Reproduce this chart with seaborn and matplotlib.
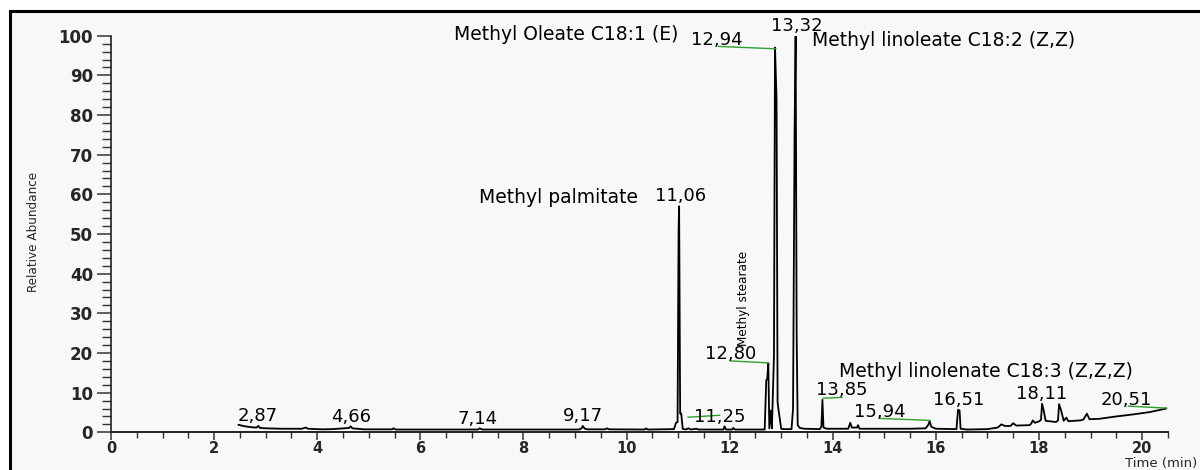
import numpy as np
import pandas as pd
import matplotlib
matplotlib.use("Agg")
import matplotlib.pyplot as plt
import seaborn as sns
from matplotlib import font_manager
from matplotlib.patches import Rectangle
from matplotlib.ticker import MultipleLocator

# Chromatogram trace (time in min, relative abundance %)
time_min = [2.47, 2.60, 2.75, 2.82, 2.86, 2.89, 3.02, 3.30, 3.70, 3.78, 3.82, 4.10,
            4.30, 4.50, 4.62, 4.65, 4.68, 4.90, 5.45, 5.48, 5.52, 6.50, 7.12, 7.15,
            7.20, 9.08, 9.13, 9.15, 9.19, 9.25, 9.58, 9.62, 9.66, 10.35, 10.38, 10.41,
            10.92, 10.96, 10.99, 11.01, 11.02, 11.04, 11.06, 11.09, 11.15, 11.20, 11.25,
            11.35, 11.40, 11.88, 11.90, 11.93, 12.05, 12.07, 12.10, 12.68, 12.71, 12.73,
            12.75, 12.77, 12.80, 12.82, 12.86, 12.88, 12.91, 12.93, 12.95, 13.00, 13.05,
            13.20, 13.23, 13.26, 13.28, 13.30, 13.32, 13.36, 13.45, 13.75, 13.78, 13.80,
            13.82, 13.88, 14.30, 14.34, 14.37, 14.47, 14.49, 14.52, 15.00, 15.50, 15.80,
            15.85, 15.88, 15.91, 16.00, 16.40, 16.43, 16.46, 16.48, 16.60, 17.00, 17.20,
            17.27, 17.34, 17.45, 17.50, 17.56, 17.82, 17.85, 17.88, 17.92, 18.01, 18.04,
            18.06, 18.09, 18.13, 18.33, 18.37, 18.39, 18.43, 18.48, 18.53, 18.57, 18.80,
            18.86, 18.93, 18.98, 19.17, 19.50, 19.82, 20.15, 20.47]
abundance = [1.9, 1.5, 1.25, 1.2, 1.6, 1.1, 1.0, 0.9, 0.9, 1.2, 0.9, 0.75,
             0.8, 1.0, 1.1, 1.5, 1.0, 0.75, 0.75, 1.0, 0.7, 0.7, 0.7, 1.0,
             0.7, 0.7, 1.0, 1.6, 0.9, 0.75, 0.75, 1.0, 0.75, 0.7, 1.0, 0.7,
             0.8, 2.4, 2.6, 51.5, 57.0, 4.7, 4.8, 0.9, 0.7, 1.0, 0.7,
             0.9, 0.7, 0.7, 1.5, 0.7, 0.7, 1.1, 0.7, 0.7, 13.1, 13.5,
             17.4, 1.0, 5.5, 1.0, 19.4, 97.0, 84.0, 7.6, 5.5, 0.9, 0.8,
             0.8, 6.0, 75.8, 100.0, 24.7, 1.8, 1.1, 0.9, 0.8, 1.5, 8.2,
             1.2, 0.9, 0.9, 2.4, 1.2, 1.2, 1.8, 0.9, 0.9, 0.9, 1.0,
             1.8, 2.8, 1.4, 0.9, 0.8, 5.7, 5.5, 0.9, 0.7, 0.8, 1.2,
             2.0, 1.6, 1.6, 2.3, 1.7, 1.8, 2.2, 3.0, 2.4, 2.8, 3.2,
             7.2, 5.6, 2.9, 2.6, 3.0, 7.1, 5.5, 2.9, 3.7, 2.8, 3.0,
             3.2, 4.7, 3.3, 3.4, 4.0, 4.5, 5.1, 6.0]

# Retention time labels and where they sit (label centre x, baseline y)
rt_labels = ["2,87", "4,66", "7,14", "9,17", "11,06", "12,94", "13,32", "12,80",
             "11,25", "13,85", "15,94", "16,51", "18,11", "20,51"]
rt_label_x = [2.85, 4.65, 7.12, 9.16, 11.04, 11.75, 13.30, 12.01,
              11.81, 14.17, 14.92, 16.44, 18.05, 19.70]
rt_label_y = [2.8, 2.6, 2.2, 2.8, 58.2, 97.7, 101.3, 18.4,
              2.6, 9.3, 3.9, 6.8, 8.5, 6.8]

# Green leader lines: label end -> peak apex
leader_from_x = [11.78, 12.01, 11.19, 13.81, 14.92, 19.73]
leader_from_y = [97.3, 18.0, 3.8, 8.6, 3.5, 6.6]
leader_to_x = [12.90, 12.76, 11.81, 14.18, 15.89, 20.48]
leader_to_y = [96.7, 17.5, 4.3, 8.8, 3.0, 6.1]

# Compound names
names = ["Methyl Oleate C18:1 (E)", "Methyl linoleate C18:2 (Z,Z)",
         "Methyl palmitate", "Methyl linolenate C18:3 (Z,Z,Z)"]
name_x = [11.00, 13.60, 10.22, 16.97]
name_y = [99.0, 97.3, 57.7, 14.0]
name_ha = ["right", "left", "right", "center"]

sns.set_style("ticks")
plt.rcParams['font.family'] = ['DejaVu Sans']

# look for a condensed face for the rotated labels
narrow = None
for f in font_manager.fontManager.ttflist:
    if str(f.stretch) in ('condensed', 'semi-condensed', 'extra-condensed') \
            and f.style == 'normal' and str(f.weight) in ('normal', '400', 'regular'):
        narrow = font_manager.FontProperties(fname=f.fname)
        break
if narrow is not None:
    narrow_size = 9.6
else:
    narrow = font_manager.FontProperties(family='DejaVu Sans')
    narrow_size = 8.0

fig = plt.figure(figsize=(12, 4.7), dpi=100)
fig.patch.set_facecolor('white')
fig.patches.append(Rectangle((0.0081, -0.05), 1.1, 0.9766 + 0.05,
                             transform=fig.transFigure, facecolor='#f8f8f8',
                             edgecolor='black', linewidth=2.2, zorder=-5))

ax = fig.add_axes([0.0925, 0.0802, 0.8807, 0.8438])
ax.patch.set_alpha(0)

df = pd.DataFrame({"time": time_min, "abundance": abundance})
sns.lineplot(data=df, x="time", y="abundance", sort=False, estimator=None,
             color='black', linewidth=1.3, ax=ax)

for x0, y0, x1, y1 in zip(leader_from_x, leader_from_y, leader_to_x, leader_to_y):
    ax.plot([x0, x1], [y0, y1], color='#2ca02c', linewidth=1.0, clip_on=False)

for lab, x, y in zip(rt_labels, rt_label_x, rt_label_y):
    ax.text(x, y, lab, ha='center', va='baseline', fontsize=13, color='black',
            clip_on=False)

for lab, x, y, ha in zip(names, name_x, name_y, name_ha):
    ax.text(x, y, lab, ha=ha, va='baseline', fontsize=13.5, color='black',
            clip_on=False)

ax.text(12.26, 33.8, "Methyl stearate", rotation=90, ha='center', va='center',
        fontproperties=narrow, fontsize=narrow_size, color='black')

ax.set_xlim(0, 20.5)
ax.set_ylim(0, 100)
ax.xaxis.set_major_locator(MultipleLocator(2))
ax.xaxis.set_minor_locator(MultipleLocator(0.5))
ax.yaxis.set_major_locator(MultipleLocator(10))
ax.yaxis.set_minor_locator(MultipleLocator(2))
ax.tick_params(axis='y', which='major', direction='out', length=10, width=1.1,
               color='#333333', pad=3, labelsize=12)
ax.tick_params(axis='y', which='minor', direction='out', length=6.5, width=1.0,
               color='#333333')
ax.tick_params(axis='x', which='major', direction='out', length=5.5, width=1.1,
               color='#333333', pad=1, labelsize=10.5)
ax.tick_params(axis='x', which='minor', direction='out', length=4.5, width=1.0,
               color='#333333')
for lab in ax.get_xticklabels() + ax.get_yticklabels():
    lab.set_fontweight('bold')

sns.despine(ax=ax)
ax.spines['left'].set_linewidth(1.2)
ax.spines['bottom'].set_linewidth(1.4)
ax.spines['left'].set_color('#222222')
ax.spines['bottom'].set_color('#222222')
ax.set_xlabel("")
ax.set_ylabel("")

fig.text(0.028, 0.5064, "Relative Abundance", rotation=90, ha='center',
         va='center', fontproperties=narrow, fontsize=narrow_size)
fig.text(0.9975, 1 - 456.5 / 470, "Time (min)", ha='right', va='top', fontsize=9.5)

fig.savefig("out.png", dpi=100)
